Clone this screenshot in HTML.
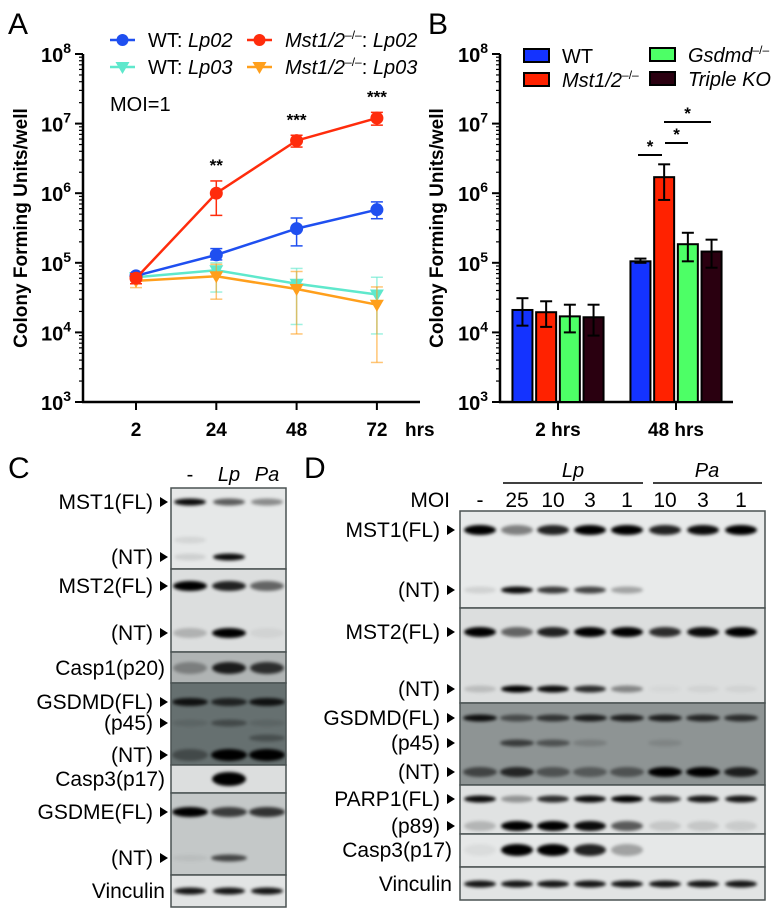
<!DOCTYPE html>
<html><head><meta charset="utf-8"><style>
body{margin:0;background:#fff;}
svg{display:block;font-family:"Liberation Sans",sans-serif;}
</style></head><body>
<svg id="fig" width="781" height="909" viewBox="0 0 781 909" xmlns="http://www.w3.org/2000/svg">
<defs>
<filter id="blur" x="-20%" y="-100%" width="140%" height="300%"><feGaussianBlur stdDeviation="1.6"/></filter>
</defs>
<g id="pa"></g>
<g id="pb"></g>
<g id="pc"></g>
<g id="pd"></g>
</svg>
<script>
// ---------- Panel A data ----------
const timesA = ["2","24","48","72"];
const wtLp02 = [6.5e4, 1.3e5, 3.1e5, 5.8e5];
const wtLp02Lo = [6e4, 1.1e5, 1.75e5, 4.3e5];
const wtLp02Hi = [7e4, 1.6e5, 4.4e5, 7.5e5];
const mstLp02 = [6e4, 1e6, 5.7e6, 1.2e7];
const mstLp02Lo = [5e4, 4.8e5, 4.6e6, 9.5e6];
const mstLp02Hi = [7e4, 1.5e6, 6.8e6, 1.45e7];
const wtLp03 = [6.2e4, 7.8e4, 5e4, 3.5e4];
const wtLp03Lo = [5.5e4, 3.8e4, 1.3e4, 9.5e3];
const wtLp03Hi = [7e4, 1e5, 8.3e4, 6.2e4];
const mstLp03 = [5.5e4, 6.4e4, 4.2e4, 2.5e4];
const mstLp03Lo = [4.4e4, 3e4, 9.5e3, 3.7e3];
const mstLp03Hi = [6.5e4, 9.5e4, 7.5e4, 4.5e4];
const starsA = ["", "**", "***", "***"];
const decadeExps = [3,4,5,6,7,8];
// ---------- Panel B data ----------
const groupsB = ["2 hrs","48 hrs"];
const seriesB = ["WT","Mst1/2","Gsdmd","Triple KO"];
const valsB = [[2.1e4,1.95e4,1.7e4,1.65e4],[1.05e5,1.7e6,1.85e5,1.45e5]];
const loB = [[1.25e4,1.2e4,1.0e4,0.9e4],[1.0e5,0.8e6,1.05e5,0.85e5]];
const hiB = [[3.1e4,2.8e4,2.5e4,2.5e4],[1.15e5,2.6e6,2.7e5,2.15e5]];

const NS="http://www.w3.org/2000/svg";
function mk(parent,tag,attrs,text){const e=document.createElementNS(NS,tag);for(const k in attrs)e.setAttribute(k,attrs[k]);if(text!==undefined)e.textContent=text;parent.appendChild(e);return e;}

function logAxis(g,x0,yTop,yBot,xEnd){
  const dec=(yBot-yTop)/5;
  const y=v=>yBot-(Math.log10(v)-3)*dec;
  const ax=mk(g,'line',{x1:x0,y1:yTop,x2:x0,y2:yBot+1,stroke:'#000','stroke-width':2.5});
  
  
  const xa=mk(g,'line',{x1:x0-1,y1:yBot,x2:xEnd,y2:yBot,stroke:'#000','stroke-width':2.5});
  
  
  for(let e=3;e<8;e++){for(let m=2;m<10;m++){const yy=y(m*Math.pow(10,e));mk(g,'line',{x1:x0-4,y1:yy,x2:x0,y2:yy,stroke:'#000','stroke-width':1.2});}}
  decadeExps.forEach(e=>{const yy=y(Math.pow(10,e));mk(g,'line',{x1:x0-8,y1:yy,x2:x0,y2:yy,stroke:'#000','stroke-width':2});
    const t=mk(g,'text',{x:x0-12,y:yy+8,'text-anchor':'end','font-size':20,'font-weight':'bold'});
    
    
    t.textContent='10';mk(t,'tspan',{dy:-9,'font-size':14},String(e));});
  return y;
}

// ---------- Panel A ----------
(function(){
  const g=document.getElementById('pa');
  const lab=mk(g,'text',{x:8,y:34,'font-size':30},'A');
  
  
  const y=logAxis(g,83,54,402,420);
  const x=i=>136+i*80.3;
  timesA.forEach((t,i)=>{mk(g,'line',{x1:x(i),y1:402,x2:x(i),y2:410,stroke:'#000','stroke-width':2});
    const tl=mk(g,'text',{x:x(i),y:436,'text-anchor':'middle','font-size':19,'font-weight':'bold'},t);
    
    });
  const hrs=mk(g,'text',{x:405,y:436,'font-size':19,'font-weight':'bold'},'hrs');
  
  
  const yt=mk(g,'text',{x:0,y:0,transform:'translate(27,228) rotate(-90)','text-anchor':'middle','font-size':19,'font-weight':'bold'},'Colony Forming Units/well');
  
  
  const moi=mk(g,'text',{x:110,y:111,'font-size':20},'MOI=1');
  
  
  const series=[
    {v:wtLp03,lo:wtLp03Lo,hi:wtLp03Hi,c:'#5fe8cc',m:'tri',n:'wt-lp03'},
    {v:mstLp03,lo:mstLp03Lo,hi:mstLp03Hi,c:'#ff9f1c',m:'tri',n:'mst-lp03'},
    {v:wtLp02,lo:wtLp02Lo,hi:wtLp02Hi,c:'#1f4ff0',m:'dot',n:'wt-lp02'},
    {v:mstLp02,lo:mstLp02Lo,hi:mstLp02Hi,c:'#ff2c0c',m:'dot',n:'mst-lp02'}];
  series.forEach(s=>{
    const sg=mk(g,'g',{});
    
    
    const op=s.m==='tri'?0.6:1;
    s.v.forEach((v,i)=>{const xx=x(i);
      mk(sg,'line',{x1:xx,y1:y(s.lo[i]),x2:xx,y2:y(s.hi[i]),stroke:s.c,'stroke-width':1.5,opacity:op});
      mk(sg,'line',{x1:xx-6,y1:y(s.lo[i]),x2:xx+6,y2:y(s.lo[i]),stroke:s.c,'stroke-width':1.5,opacity:op});
      mk(sg,'line',{x1:xx-6,y1:y(s.hi[i]),x2:xx+6,y2:y(s.hi[i]),stroke:s.c,'stroke-width':1.5,opacity:op});});
    mk(sg,'polyline',{points:s.v.map((v,i)=>x(i)+','+y(v)).join(' '),fill:'none',stroke:s.c,'stroke-width':2.5});
    s.v.forEach((v,i)=>{const xx=x(i),yy=y(v);let p;
      if(s.m==='dot')p=mk(sg,'circle',{cx:xx,cy:yy,r:6.5,fill:s.c});
      else p=mk(sg,'path',{d:`M${xx-7},${yy-5}L${xx+7},${yy-5}L${xx},${yy+7}Z`,fill:s.c});
      
      });
  });
  starsA.forEach((s,i)=>{if(!s)return;const t=mk(g,'text',{x:x(i),y:y(mstLp02Hi[i])-10,'text-anchor':'middle','font-size':17,'font-weight':'bold'},s);
    
    });
  const leg=[[110,40,'#1f4ff0','dot','Lp02',false],[247,40,'#ff2c0c','dot','Lp02',true],[110,67,'#5fe8cc','tri','Lp03',false],[247,67,'#ff9f1c','tri','Lp03',true]];
  leg.forEach(l=>{const lg=mk(g,'g',{});
    
    
    const [lx,ly,c,m]=l;
    mk(lg,'line',{x1:lx,y1:ly,x2:lx+25,y2:ly,stroke:c,'stroke-width':2.5});
    if(m==='dot')mk(lg,'circle',{cx:lx+12.5,cy:ly,r:6,fill:c});else mk(lg,'path',{d:`M${lx+5.5},${ly-5}L${lx+19.5},${ly-5}L${lx+12.5},${ly+7}Z`,fill:c});
    const t=mk(lg,'text',{x:lx+38,y:ly+7,'font-size':20});
    if(l[5]){mk(t,'tspan',{'font-style':'italic'},'Mst1/2');mk(t,'tspan',{dy:-8,'font-size':12},'\u2013/\u2013');mk(t,'tspan',{dy:8},': ');mk(t,'tspan',{'font-style':'italic'},l[4]);}
    else{mk(t,'tspan',{},'WT: ');mk(t,'tspan',{'font-style':'italic'},l[4]);}
  });
})();

// ---------- Panel B ----------
(function(){
  const g=document.getElementById('pb');
  const lab=mk(g,'text',{x:428,y:34,'font-size':30},'B');
  
  
  const y=logAxis(g,500,54,402,733);
  const yt=mk(g,'text',{x:0,y:0,transform:'translate(443,228) rotate(-90)','text-anchor':'middle','font-size':19,'font-weight':'bold'},'Colony Forming Units/well');
  
  
  const cols=['#1433ff','#ff2200','#4dff66','#2a0010'];
  const gc=i=>558+i*118, bw=20, step=23.7;
  groupsB.forEach((gn,gi)=>{
    mk(g,'line',{x1:gc(gi),y1:402,x2:gc(gi),y2:410,stroke:'#000','stroke-width':2});
    const tl=mk(g,'text',{x:gc(gi),y:436,'text-anchor':'middle','font-size':19,'font-weight':'bold'},gn);
    
    
    valsB[gi].forEach((v,si)=>{const cx=gc(gi)+(si-1.5)*step;
      const r=mk(g,'rect',{x:cx-bw/2,y:y(v),width:bw,height:402-y(v),fill:cols[si],stroke:'#000','stroke-width':2});
      
      
      const lo=y(loB[gi][si]),hi=y(hiB[gi][si]);
      mk(g,'line',{x1:cx,y1:lo,x2:cx,y2:hi,stroke:'#000','stroke-width':2});
      mk(g,'line',{x1:cx-6,y1:lo,x2:cx+6,y2:lo,stroke:'#000','stroke-width':2});
      mk(g,'line',{x1:cx-6,y1:hi,x2:cx+6,y2:hi,stroke:'#000','stroke-width':2});
    });
  });
  [[638,662,155],[665,688,143],[664,711,122]].forEach(s=>{const sg=mk(g,'g',{});
    
    
    mk(sg,'line',{x1:s[0],y1:s[2],x2:s[1],y2:s[2],stroke:'#000','stroke-width':2});
    mk(sg,'text',{x:(s[0]+s[1])/2,y:s[2]-3,'text-anchor':'middle','font-size':17,'font-weight':'bold'},'*');});
  const leg=[[524,49,0,'WT'],[524,73,1,'Mst'],[650,48,2,'Gsdmd'],[650,72,3,'Triple KO']];
  leg.forEach(l=>{const lg=mk(g,'g',{});
    
    
    mk(lg,'rect',{x:l[0],y:l[1],width:25,height:13,fill:cols[l[2]],stroke:'#000','stroke-width':2});
    const t=mk(lg,'text',{x:l[0]+38,y:l[1]+14,'font-size':20});
    if(l[3]==='WT')t.textContent='WT';
    else if(l[3]==='Mst'){mk(t,'tspan',{'font-style':'italic'},'Mst1/2');mk(t,'tspan',{dy:-8,'font-size':12},'\u2013/\u2013');}
    else if(l[3]==='Gsdmd'){mk(t,'tspan',{'font-style':'italic'},'Gsdmd');mk(t,'tspan',{dy:-8,'font-size':12},'\u2013/\u2013');}
    else {t.setAttribute('font-style','italic');t.textContent='Triple KO';}
  });
})();

// ---------- Blots ----------
function blot(g,bx,bw,lanes,panels,labelX,arrowX){
  panels.forEach(p=>{
    const pg=mk(g,'g',{});
    
    
    mk(pg,'rect',{x:bx,y:p.y0,width:bw,height:p.y1-p.y0,fill:p.bg});
    const bg=mk(pg,'g',{filter:'url(#blur)'});
    p.bands.forEach(b=>{b.v.forEach((v,i)=>{if(v<=0)return;
      mk(bg,'ellipse',{cx:lanes[i],cy:b.y,rx:p.rx,ry:b.h||3.5,fill:'#000','fill-opacity':v});});});
    mk(pg,'rect',{x:bx,y:p.y0,width:bw,height:p.y1-p.y0,fill:'none',stroke:'#4a5252','stroke-width':1.5});
    p.bands.forEach(b=>{if(!b.l)return;
      const t=mk(pg,'text',{x:b.arrow?labelX:labelX+12,y:b.y+7,'text-anchor':'end','font-size':21},b.l);
      
      
      if(b.arrow)mk(pg,'path',{d:`M${arrowX},${b.y-5}L${arrowX+8},${b.y}L${arrowX},${b.y+5}Z`,fill:'#000'});});
  });
}
(function(){
  const g=document.getElementById('pc');
  const lab=mk(g,'text',{x:8,y:478,'font-size':30},'C');
  
  
  const lanes=[190,229,267];
  [['-',190,false],['Lp',229,true],['Pa',267,true]].forEach(h=>{const t=mk(g,'text',{x:h[1],y:481,'text-anchor':'middle','font-size':20,'font-style':h[2]?'italic':'normal'},h[0]);
    
    });
  blot(g,171,115,lanes,[
    {n:'mst1',y0:488,y1:569,bg:'#e6e8e8',rx:16,bands:[{y:502,v:[0.95,0.6,0.4],l:'MST1(FL)',arrow:1},{y:540,v:[0.08,0,0]},{y:557,v:[0.1,0.95,0],l:'(NT)',arrow:1}]},
    {n:'mst2',y0:569,y1:652,bg:'#dcdede',rx:17,bands:[{y:586,v:[1,0.85,0.55],l:'MST2(FL)',arrow:1,h:5},{y:633,v:[0.2,1,0.05],l:'(NT)',arrow:1,h:5}]},
    {n:'casp1',y0:652,y1:683,bg:'#b0b4b4',rx:17,bands:[{y:668,v:[0.3,0.85,0.75],l:'Casp1(p20)',arrow:0,h:6}]},
    {n:'gsdmd',y0:683,y1:765,bg:'#667070',rx:18,bands:[{y:702,v:[0.85,0.7,0.85],l:'GSDMD(FL)',arrow:1,h:4},{y:723,v:[0.1,0.35,0.1],l:'(p45)',arrow:1},{y:738,v:[0,0,0.3]},{y:755,v:[0.35,1,1],l:'(NT)',arrow:1,h:6}]},
    {n:'casp3',y0:765,y1:793,bg:'#dcdede',rx:17,bands:[{y:779,v:[0,1,0],l:'Casp3(p17)',arrow:0,h:7}]},
    {n:'gsdme',y0:793,y1:875,bg:'#c4c8c8',rx:18,bands:[{y:812,v:[1,0.7,0.75],l:'GSDME(FL)',arrow:1,h:5},{y:858,v:[0.05,0.65,0],l:'(NT)',arrow:1}]},
    {n:'vinculin',y0:875,y1:907,bg:'#e2e4e4',rx:16,bands:[{y:891,v:[0.9,0.9,0.9],l:'Vinculin',arrow:0}]}
  ],153,160);
})();
(function(){
  const g=document.getElementById('pd');
  const lab=mk(g,'text',{x:304,y:478,'font-size':30},'D');
  
  
  const lanes=[480,517,553,590,627,665,703,741];
  mk(g,'text',{x:573,y:477,'text-anchor':'middle','font-size':20,'font-style':'italic'},'Lp');
  mk(g,'text',{x:707,y:477,'text-anchor':'middle','font-size':20,'font-style':'italic'},'Pa');
  mk(g,'line',{x1:503,y1:483,x2:643,y2:483,stroke:'#000','stroke-width':1.5});
  mk(g,'line',{x1:653,y1:483,x2:762,y2:483,stroke:'#000','stroke-width':1.5});
  mk(g,'text',{x:450,y:507,'text-anchor':'end','font-size':21},'MOI');
  ['-','25','10','3','1','10','3','1'].forEach((m,i)=>{const t=mk(g,'text',{x:lanes[i],y:507,'text-anchor':'middle','font-size':21},m);
    
    });
  blot(g,460,305,lanes,[
    {n:'mst1',y0:511,y1:608,bg:'#e8eaea',rx:16,bands:[{y:530,v:[1,0.45,0.85,1,1,0.85,0.95,1],l:'MST1(FL)',arrow:1,h:5},{y:590,v:[0.1,0.95,0.75,0.7,0.3,0,0,0],l:'(NT)',arrow:1}]},
    {n:'mst2',y0:608,y1:703,bg:'#dcdede',rx:16,bands:[{y:632,v:[1,0.55,0.85,1,1,0.8,0.95,1],l:'MST2(FL)',arrow:1,h:5},{y:689,v:[0.15,1,0.95,0.8,0.4,0.03,0.05,0.05],l:'(NT)',arrow:1}]},
    {n:'gsdmd',y0:703,y1:785,bg:'#8e9494',rx:17,bands:[{y:718,v:[0.9,0.5,0.65,0.8,0.8,0.8,0.75,0.7],l:'GSDMD(FL)',arrow:1},{y:743,v:[0,0.6,0.45,0.15,0,0.1,0,0],l:'(p45)',arrow:1},{y:772,v:[0.55,0.75,0.45,0.4,0.45,1,1,0.8],l:'(NT)',arrow:1,h:5}]},
    {n:'parp1',y0:785,y1:834,bg:'#e0e2e2',rx:16,bands:[{y:799,v:[0.95,0.35,0.8,0.95,1,0.75,0.9,0.9],l:'PARP1(FL)',arrow:1},{y:826,v:[0.2,1,1,0.95,0.6,0.12,0.12,0.1],l:'(p89)',arrow:1,h:5}]},
    {n:'casp3',y0:834,y1:867,bg:'#e6e8e8',rx:16,bands:[{y:850,v:[0.05,1,1,0.85,0.3,0,0,0],l:'Casp3(p17)',arrow:0,h:6}]},
    {n:'vinculin',y0:867,y1:900,bg:'#e2e4e4',rx:16,bands:[{y:884,v:[0.9,0.9,0.9,0.9,0.9,0.9,0.9,0.9],l:'Vinculin',arrow:0}]}
  ],440,447);
})();
</script>
</body></html>
